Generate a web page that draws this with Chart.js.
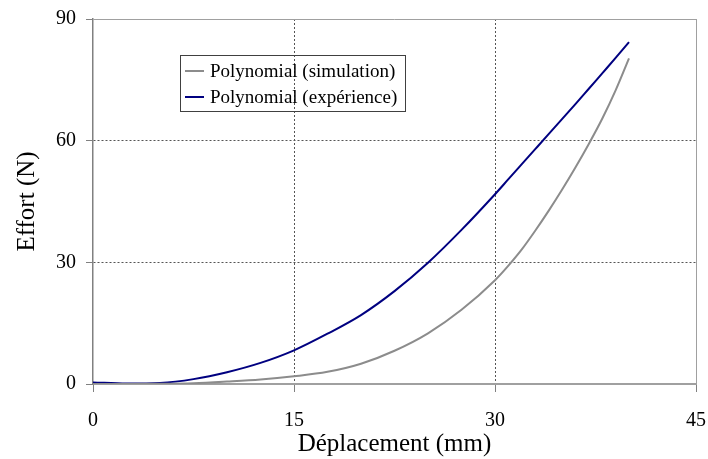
<!DOCTYPE html>
<html>
<head>
<meta charset="utf-8">
<script src="https://cdn.jsdelivr.net/npm/chart.js@4/dist/chart.umd.min.js"></script>
<style>
  html, body { margin: 0; padding: 0; background: #fff; }
  #wrap { width: 708px; height: 459px; }
</style>
</head>
<body>
<div id="wrap"><canvas id="effort"></canvas></div>
<script>
// displacement (mm)
const deplacement = [ 0, 2.5, 5, 7.5, 10, 12.5, 15, 17.5, 20, 22.5, 25, 27.5, 30, 31, 32, 33, 34, 35, 36, 37, 38, 39, 40 ]
// force, simulation (N)
const effortSimulation = [ 0, 0, 0.05, 0.2, 0.6, 1.1, 1.9, 3.0, 5.0, 8.2, 12.5, 18.3, 25.6, 29.2, 33.2, 37.8, 42.7, 47.9, 53.4, 59.2, 65.4, 72.4, 80.3 ]
// force, experiment (N)
const effortExperience = [ 0.4, 0.1, 0.25, 1.2, 2.9, 5.2, 8.3, 12.4, 17.0, 22.9, 29.9, 38.0, 46.8, 50.5, 54.2, 57.9, 61.6, 65.3, 69.0, 72.8, 76.6, 80.4, 84.3 ]
const xTicks = [ 0, 15, 30, 45 ]
const yTicks = [ 0, 30, 60, 90 ]

const serif = '"Liberation Serif", "Times New Roman", serif'

const toPoints = (xs, ys) => xs.map((x, i) => ({ x: x, y: ys[i] }))

const boxLegend = {
  id: 'boxLegend',
  afterDraw(chart) {
    const { ctx } = chart
    ctx.save()
    ctx.strokeStyle = '#404040'
    ctx.lineWidth = 1
    ctx.strokeRect(180.5, 55.5, 225, 56)
    ctx.font = '19px ' + serif
    ctx.textBaseline = 'middle'
    ctx.textAlign = 'left'
    chart.data.datasets.forEach((ds, i) => {
      const y = 71 + i * 26
      ctx.strokeStyle = ds.borderColor
      ctx.lineWidth = 2
      ctx.beginPath()
      ctx.moveTo(185, y)
      ctx.lineTo(204, y)
      ctx.stroke()
      ctx.fillStyle = '#000'
      ctx.fillText(ds.label, 210, y + 1)
    })
    ctx.restore()
  }
}

const edgeColor = (max) => (c) => {
  if (c.tick && c.tick.value === 0) return 'rgba(0,0,0,0)'
  if (c.tick && c.tick.value === max) return '#a0a0a0'
  return '#555555'
}
const edgeDash = (max) => (c) => (c.type === 'tick' && c.tick && c.tick.value > 0 && c.tick.value < max) ? [2, 2] : []

let effortChart = new Chart(document.querySelector('#effort'), {
  type: 'line',
  plugins: [boxLegend],
  data: {
    datasets: [
      {
        label: 'Polynomial (simulation)',
        data: toPoints(deplacement, effortSimulation),
        borderColor: '#8c8c8c',
        borderWidth: 2,
        pointRadius: 0,
        cubicInterpolationMode: 'monotone',
        fill: false
      },
      {
        label: 'Polynomial (expérience)',
        data: toPoints(deplacement, effortExperience),
        borderColor: '#000080',
        borderWidth: 2,
        pointRadius: 0,
        cubicInterpolationMode: 'monotone',
        fill: false
      }
    ]
  },
  options: {
    responsive: true,
    maintainAspectRatio: false,
    animation: false,
    layout: {
      padding: { top: 19, right: 12, left: 0, bottom: 0 }
    },
    scales: {
      x: {
        type: 'linear',
        min: 0,
        max: 45,
        afterBuildTicks: (scale) => { scale.ticks = xTicks.map(v => ({ value: v })) },
        afterFit: (scale) => {
          scale.height = 75
          scale.paddingLeft = 0
          scale.paddingRight = 0
        },
        grid: {
          color: edgeColor(45),
          lineWidth: 1,
          tickColor: '#808080',
          tickLength: 8,
          tickBorderDash: []
        },
        border: {
          color: '#a0a0a0',
          width: 2,
          dash: edgeDash(45)
        },
        ticks: {
          color: '#000',
          padding: 17,
          maxRotation: 0,
          font: { family: serif, size: 20 }
        },
        title: {
          display: true,
          text: 'Déplacement (mm)',
          color: '#000',
          font: { family: serif, size: 25 },
          padding: { top: 0, bottom: 0 }
        }
      },
      y: {
        min: 0,
        max: 90,
        afterBuildTicks: (scale) => { scale.ticks = yTicks.map(v => ({ value: v })) },
        afterFit: (scale) => {
          scale.width = 93
          scale.paddingTop = 0
          scale.paddingBottom = 0
        },
        grid: {
          color: edgeColor(90),
          lineWidth: 1,
          tickColor: '#808080',
          tickLength: 7,
          tickBorderDash: []
        },
        border: {
          color: '#808080',
          width: 1.5,
          dash: edgeDash(90)
        },
        ticks: {
          color: '#000',
          padding: 10,
          font: { family: serif, size: 20 }
        },
        title: {
          display: true,
          text: 'Effort (N)',
          color: '#000',
          font: { family: serif, size: 25 },
          padding: { top: 12, bottom: 0 }
        }
      }
    },
    plugins: {
      legend: { display: false },
      tooltip: { enabled: false }
    }
  }
})
</script>
</body>
</html>
